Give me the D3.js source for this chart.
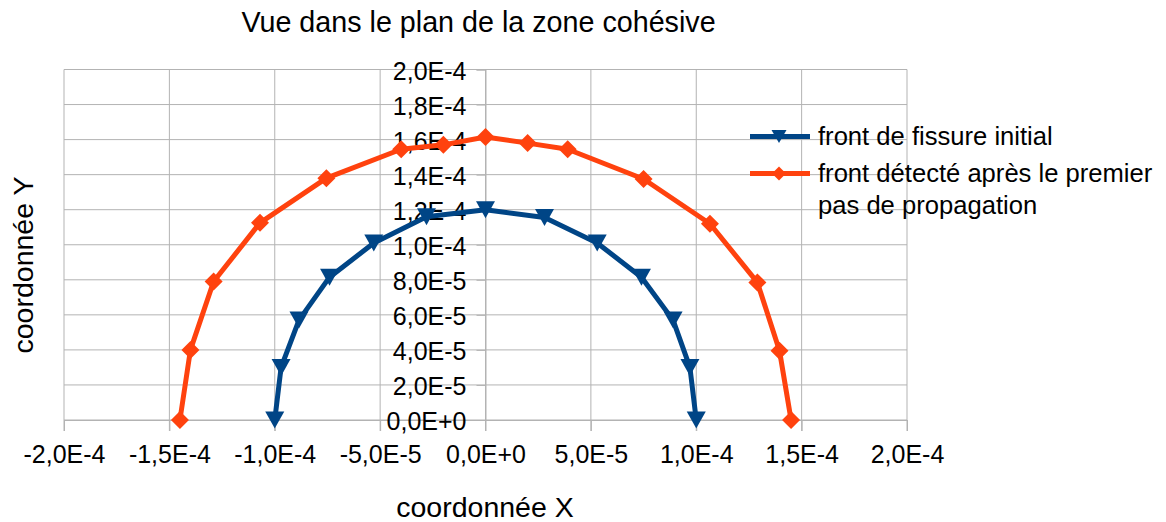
<!DOCTYPE html>
<html>
<head>
<meta charset="utf-8">
<script src="https://cdn.jsdelivr.net/npm/d3@7/dist/d3.min.js"></script>
<style>
  html, body { margin: 0; padding: 0; background: #ffffff; }
  svg { display: block; font-family: "Liberation Sans", Arial, sans-serif; }
</style>
</head>
<body>
<svg id="chart" width="1166" height="522"></svg>
<script>
// ---- data ----
const initialX = [-1.0e-4, -9.7e-5, -8.85e-5, -7.4e-5, -5.3e-5, -2.8e-5, 0, 2.8e-5, 5.3e-5, 7.4e-5, 8.9e-5, 9.7e-5, 1.0e-4];
const initialY = [0, 3.0e-5, 5.7e-5, 8.15e-5, 1.01e-4, 1.16e-4, 1.2e-4, 1.155e-4, 1.01e-4, 8.15e-5, 5.7e-5, 3.0e-5, 0];
const propX = [-1.45e-4, -1.40e-4, -1.29e-4, -1.07e-4, -7.55e-5, -4.0e-5, -2.0e-5, 0, 2.0e-5, 3.9e-5, 7.5e-5, 1.065e-4, 1.29e-4, 1.395e-4, 1.45e-4];
const propY = [0, 4.0e-5, 7.9e-5, 1.125e-4, 1.38e-4, 1.545e-4, 1.57e-4, 1.615e-4, 1.58e-4, 1.545e-4, 1.375e-4, 1.12e-4, 7.85e-5, 3.95e-5, 0];
const xTickValues = [-2e-4, -1.5e-4, -1e-4, -5e-5, 0, 5e-5, 1e-4, 1.5e-4, 2e-4];
const xTickLabels = ["-2,0E-4", "-1,5E-4", "-1,0E-4", "-5,0E-5", "0,0E+0", "5,0E-5", "1,0E-4", "1,5E-4", "2,0E-4"];
const yTickValues = [0, 2e-5, 4e-5, 6e-5, 8e-5, 1e-4, 1.2e-4, 1.4e-4, 1.6e-4, 1.8e-4, 2e-4];
const yTickLabels = ["0,0E+0", "2,0E-5", "4,0E-5", "6,0E-5", "8,0E-5", "1,0E-4", "1,2E-4", "1,4E-4", "1,6E-4", "1,8E-4", "2,0E-4"];
const seriesNames = ["front de fissure initial", "front détecté après le premier pas de propagation"];
const titleText = "Vue dans le plan de la zone cohésive";
const xTitle = "coordonnée X";
const yTitle = "coordonnée Y";

// ---- layout ----
const L = 64, R = 907, T = 69.5, B = 420;
const blue = "#004586", orange = "#ff420e", grid = "#b3b3b3";

const svg = d3.select("#chart");
const x = d3.scaleLinear().domain([-2e-4, 2e-4]).range([L, R]);
const y = d3.scaleLinear().domain([0, 2e-4]).range([B, T]);

// gridlines
const g = svg.append("g");
g.selectAll("line.h").data(yTickValues).join("line")
  .attr("x1", L).attr("x2", R)
  .attr("y1", d => y(d)).attr("y2", d => y(d))
  .attr("stroke", grid).attr("stroke-width", 1);
g.selectAll("line.v").data(xTickValues).join("line")
  .attr("y1", T).attr("y2", B + 11)
  .attr("x1", d => x(d)).attr("x2", d => x(d))
  .attr("stroke", grid).attr("stroke-width", 1);

// x axis (bottom)
const xAxis = d3.axisBottom(x).tickValues(xTickValues)
  .tickFormat((d, i) => xTickLabels[i]).tickSize(11).tickPadding(14);
const xg = svg.append("g").attr("transform", `translate(0,${B})`).call(xAxis);
xg.select(".domain").attr("stroke", grid);
xg.selectAll(".tick line").attr("stroke", grid);
xg.selectAll(".tick text").attr("font-size", 25).attr("fill", "#000")
  .attr("font-family", "Liberation Sans, Arial, sans-serif");

// y axis at x = 0
const yAxis = d3.axisLeft(y).tickValues(yTickValues)
  .tickFormat((d, i) => yTickLabels[i]).tickSize(9).tickPadding(10);
const yg = svg.append("g").attr("transform", `translate(${x(0)},0)`).call(yAxis);
yg.select(".domain").attr("stroke", grid);
yg.selectAll(".tick line").attr("stroke", grid);
yg.selectAll(".tick text").attr("font-size", 25).attr("fill", "#000")
  .attr("dy", "0.38em")
  .attr("font-family", "Liberation Sans, Arial, sans-serif");

// series
const line = d3.line().x(d => x(d[0])).y(d => y(d[1]));
const s1 = initialX.map((v, i) => [v, initialY[i]]);
const s2 = propX.map((v, i) => [v, propY[i]]);

function triPath(w, h) { return `M${-w/2},${-h/2}L${w/2},${-h/2}L0,${h/2}Z`; }
function diaPath(w) { return `M0,${-w/2}L${w/2},0L0,${w/2}L${-w/2},0Z`; }

svg.append("path").datum(s2).attr("d", line).attr("fill", "none")
  .attr("stroke", orange).attr("stroke-width", 5).attr("stroke-linejoin", "round");
svg.append("g").selectAll("path").data(s2).join("path")
  .attr("d", diaPath(18)).attr("fill", orange)
  .attr("transform", d => `translate(${x(d[0])},${y(d[1])})`);

svg.append("path").datum(s1).attr("d", line).attr("fill", "none")
  .attr("stroke", blue).attr("stroke-width", 5).attr("stroke-linejoin", "round");
svg.append("g").selectAll("path").data(s1).join("path")
  .attr("d", triPath(19, 17)).attr("fill", blue)
  .attr("transform", d => `translate(${x(d[0])},${y(d[1])})`);

// legend
const lg = svg.append("g");
lg.append("line").attr("x1", 750).attr("x2", 810).attr("y1", 136.5).attr("y2", 136.5)
  .attr("stroke", blue).attr("stroke-width", 5);
lg.append("path").attr("d", triPath(15, 13)).attr("fill", blue)
  .attr("transform", "translate(779,136.5)");
lg.append("text").attr("x", 818).attr("y", 136.5).attr("dy", "0.35em")
  .attr("font-size", 25.6).text(seriesNames[0]);

lg.append("line").attr("x1", 750).attr("x2", 810).attr("y1", 173.5).attr("y2", 173.5)
  .attr("stroke", orange).attr("stroke-width", 5);
lg.append("path").attr("d", diaPath(14)).attr("fill", orange)
  .attr("transform", "translate(779,173.5)");
const t2 = lg.append("text").attr("x", 818).attr("y", 173.5).attr("dy", "0.35em").attr("font-size", 25.6);
t2.append("tspan").attr("x", 818).text("front détecté après le premier");
t2.append("tspan").attr("x", 818).attr("dy", "1.22em").text("pas de propagation");

// titles
svg.append("text").attr("x", 478.5).attr("y", 31.5).attr("text-anchor", "middle")
  .attr("font-size", 28.7).text(titleText);
svg.append("text").attr("x", 485).attr("y", 517).attr("text-anchor", "middle")
  .attr("font-size", 28.5).text(xTitle);
svg.append("text").attr("transform", "translate(33,265) rotate(-90)").attr("text-anchor", "middle")
  .attr("font-size", 28.5).text(yTitle);
</script>
</body>
</html>
